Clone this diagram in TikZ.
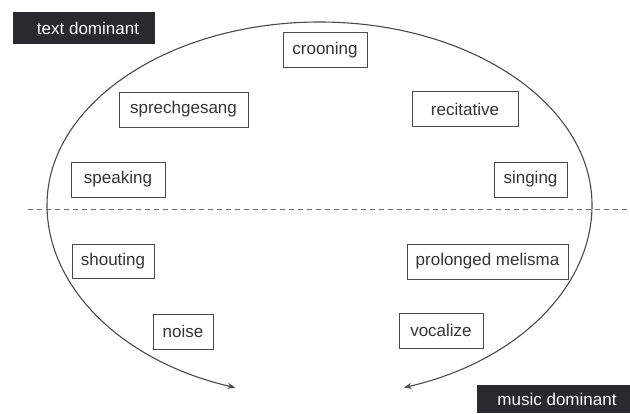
\documentclass[tikz,border=0pt]{standalone}
\usepackage{fontspec}
\setmainfont{Liberation Sans}
\usetikzlibrary{arrows.meta}
\definecolor{linegray}{HTML}{4A4A4A}
\definecolor{textgray}{HTML}{333333}
\definecolor{darkbox}{HTML}{2A2A2E}
\begin{document}
\begin{tikzpicture}[x=1pt,y=-1pt,
  every node/.style={font=\fontsize{17}{20}\selectfont},
  term/.style={draw=linegray,line width=1pt,text=textgray,minimum height=35pt,inner sep=0pt},
  tag/.style={fill=darkbox,text=white,inner sep=0pt,minimum height=32pt},
  curve/.style={draw=linegray,line width=1.1pt,{Stealth[length=8pt,width=6pt]}-{Stealth[length=8pt,width=6pt]}},
  divider/.style={draw=linegray!80,line width=1pt,dash pattern=on 5pt off 4pt}
]
\useasboundingbox (0,0) rectangle (630,413);
% dominance tags
\node[tag,minimum width=142pt] (textdom) at (84,28) {\hspace*{8pt}text dominant};
\node[tag,minimum width=160pt,minimum height=28pt] (musicdom) at (557,399) {music dominant};
% divider
\coordinate (divL) at (28,209);
\coordinate (divR) at (630,209);
\draw[divider] (divL) -- (divR);
% arc
\coordinate (arcL) at (235.3,387.6);
\coordinate (arcR) at (403.7,387.6);
\draw[curve] (arcL) arc[start angle=108,end angle=180,x radius=272.5,y radius=192]
  arc[start angle=180,end angle=360,x radius=272.5,y radius=183]
  arc[start angle=0,end angle=72,x radius=272.5,y radius=192];
% terms
\node[term,minimum width=84pt] (crooning) at (325,50) {crooning};
\node[term,minimum width=129pt] (sprech) at (183.5,109.5) {sprechgesang};
\node[term,minimum width=106pt] (recit) at (465,109) {recitative};
\node[term,minimum width=94pt] (speaking) at (118,179.5) {speaking};
\node[term,minimum width=73pt] (singing) at (530.5,179.5) {singing};
\node[term,minimum width=82pt,minimum height=34pt] (shouting) at (113,261) {shouting};
\node[term,minimum width=60pt] (noise) at (183,331.5) {noise};
\node[term,minimum width=161pt] (melisma) at (487.5,261.5) {prolonged melisma};
\node[term,minimum width=84pt] (vocalize) at (441,330.5) {vocalize};
\end{tikzpicture}
\end{document}
